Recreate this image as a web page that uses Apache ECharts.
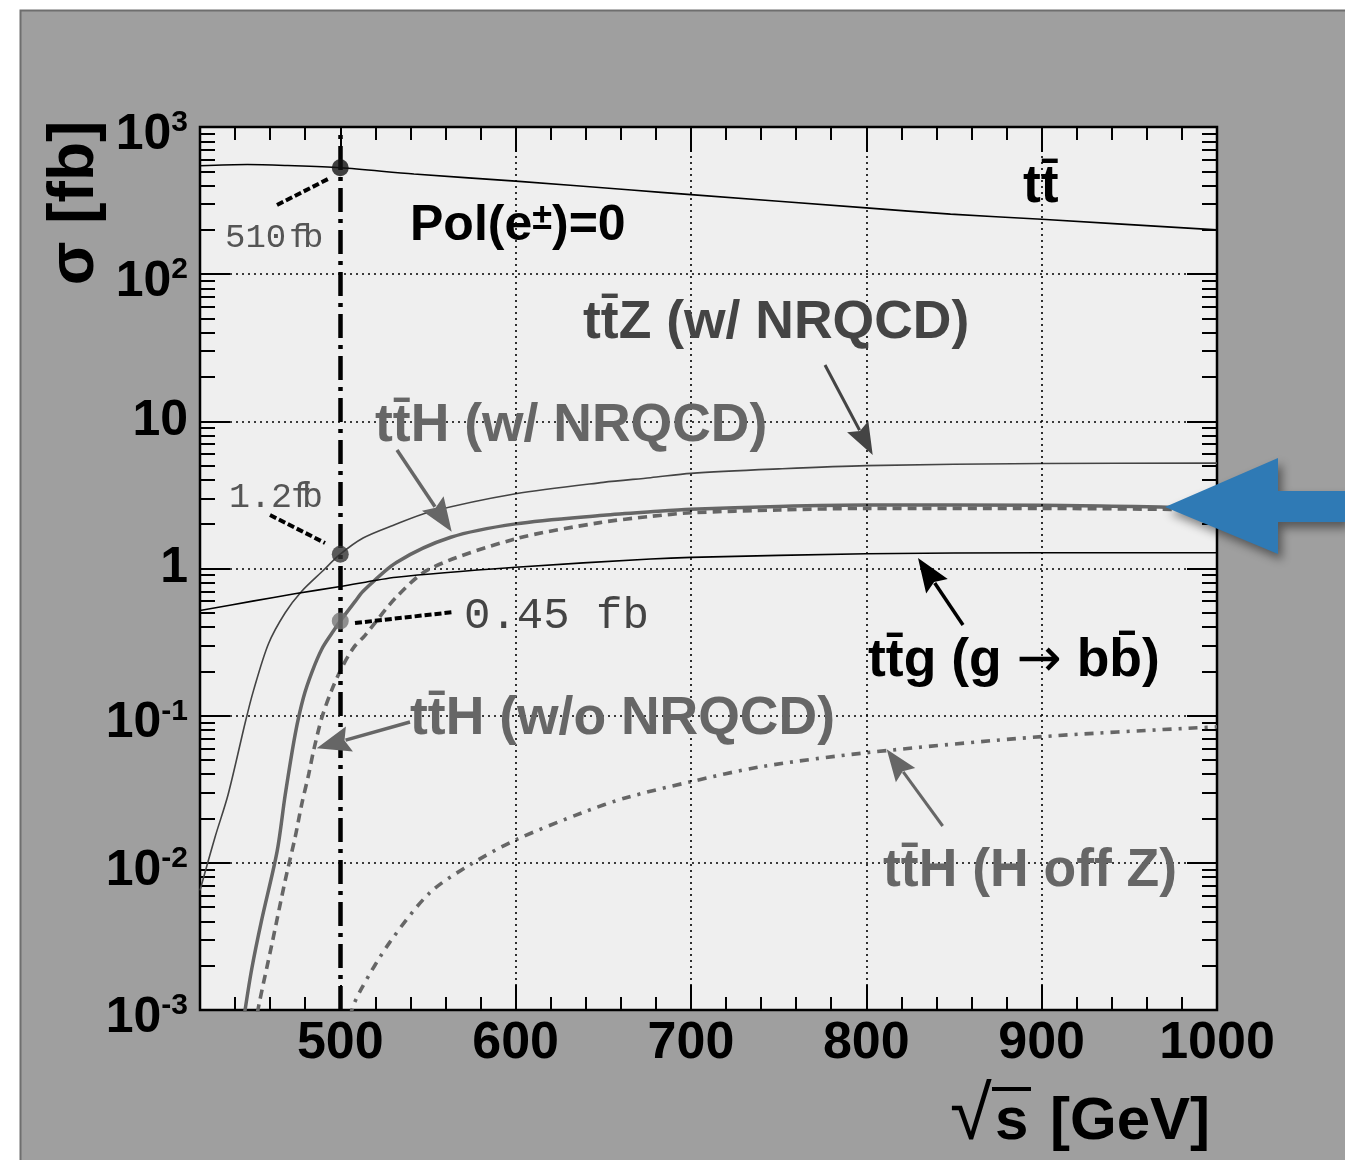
<!DOCTYPE html>
<html><head><meta charset="utf-8">
<script src="https://cdn.jsdelivr.net/npm/echarts@6/dist/echarts.min.js"></script>
<style>html,body{margin:0;padding:0;background:#fff}#c{width:1345px;height:1160px}</style>
</head><body><div id="c"></div>
<script>
// ---------------- data ----------------
const X_TICKS = [500, 600, 700, 800, 900, 1000];
const X_MINOR = [440, 460, 480, 520, 540, 560, 580, 620, 640, 660, 680, 720, 740, 760, 780,
                 820, 840, 860, 880, 920, 940, 960, 980];
const X_GRID = [600, 700, 800, 900];
const Y_DECADES = [-3, -2, -1, 0, 1, 2];
const Y_MINOR_MULT = [2, 3, 4, 5, 6, 7, 8, 9];

// t tbar
const tt_x = [420, 447, 470, 500, 542, 600, 666, 700, 800, 848, 900, 1000];
const tt_y = [546, 556, 547, 528, 479, 429, 373, 347, 282, 256, 236, 200];
// t tbar Z (w/ NRQCD)
const ttZ_x = [420, 428.6, 436, 446, 450.5, 459, 468.6, 478, 489.5, 500, 513, 530, 551, 600, 650, 677, 700, 750, 800, 900, 1000];
const ttZ_y = [0.0065, 0.015, 0.029, 0.092, 0.148, 0.307, 0.50, 0.70, 0.95, 1.25, 1.61, 1.96, 2.42, 3.22, 3.85, 4.14, 4.43, 4.75, 5.0, 5.17, 5.2];
// t tbar H (w/ NRQCD)
const ttHw_x = [443, 445.7, 449.5, 455, 464, 468.6, 474.3, 479, 484, 489.5, 495, 500, 508.6, 513, 532, 563, 600, 650, 677, 700, 750, 800, 900, 1000];
const ttHw_y = [0.0006, 0.001, 0.0019, 0.004, 0.012, 0.029, 0.075, 0.133, 0.20, 0.284, 0.36, 0.44, 0.60, 0.70, 1.10, 1.63, 2.01, 2.30, 2.43, 2.53, 2.64, 2.70, 2.69, 2.56];
// t tbar H (w/o NRQCD)
const ttHwo_x = [450, 453.3, 461, 468.6, 474.3, 478, 482, 484.8, 489.5, 495, 501, 507.6, 514, 532, 551, 600, 648, 677, 700, 750, 800, 900, 1000];
const ttHwo_y = [0.0006, 0.00104, 0.0028, 0.0076, 0.015, 0.025, 0.040, 0.058, 0.097, 0.148, 0.213, 0.29, 0.35, 0.64, 0.995, 1.59, 2.05, 2.26, 2.39, 2.50, 2.56, 2.56, 2.5];
// t tbar g (g -> b bbar)
const ttg_x = [420, 450, 474, 500, 532, 600, 677, 700, 800, 900, 1000];
const ttg_y = [0.518, 0.60, 0.673, 0.754, 0.873, 1.02, 1.16, 1.19, 1.26, 1.28, 1.28];
// t tbar H (H off Z)
const ttHoff_x = [503, 506.6, 512.4, 528, 551, 574, 600, 638, 663, 700, 740, 800, 900, 1000];
const ttHoff_y = [0.0006, 0.001, 0.00142, 0.00286, 0.00625, 0.0097, 0.0143, 0.0219, 0.0277, 0.0356, 0.045, 0.056, 0.072, 0.084];
// marked points at sqrt(s) = 500 GeV
const mark_x = [500, 500, 500];
const mark_y = [528, 1.25, 0.44];
const CUT_X = 500;

// ---------------- chart ----------------
const chart = echarts.init(document.getElementById('c'), null, {renderer: 'canvas'});
const SANS = '"Liberation Sans", Arial, Helvetica, sans-serif';
const MONO = '"Liberation Mono", "DejaVu Sans Mono", monospace';

const pairs = (X, Y) => X.map((x, i) => [x, Y[i]]);
function curve(name, X, Y, lineStyle) {
  return {type: 'line', name, data: pairs(X, Y), showSymbol: false, symbol: 'none',
    smooth: 0.3, clip: true, silent: true, z: 3, lineStyle,
    xAxisIndex: 0, yAxisIndex: 0};
}

const yMinorLog = [];
Y_DECADES.forEach(d => Y_MINOR_MULT.forEach(m => yMinorLog.push(d + Math.log10(m))));

function yLabel(v) {
  const e = Math.round(Math.log10(v));
  if (e === 0) return '{p|1}';
  if (e === 1) return '{p|10}';
  return '{b|10}{s|' + e + '}';
}

const tickStyle = {color: '#000', width: 2};
function xAx(pos, vals, len, labels) {
  return {type: 'value', min: 420, max: 1000, position: pos, gridIndex: 0,
    axisLine: {show: false, onZero: false}, splitLine: {show: false},
    axisTick: {show: true, inside: true, length: len, customValues: vals, lineStyle: tickStyle},
    axisLabel: labels ? {show: true, customValues: X_TICKS, margin: 8, fontSize: 52, fontWeight: 'bold',
      fontFamily: SANS, color: '#000', formatter: v => String(v)} : {show: false}};
}
function yLog(pos, labels) {
  return {type: 'log', logBase: 10, min: 0.001, max: 1000, position: pos, gridIndex: 0, splitNumber: 6,
    axisLine: {show: false, onZero: false},
    splitLine: {show: labels, lineStyle: {type: [2, 4], color: '#000', width: 1.6}},
    axisTick: {show: true, inside: true, length: 30, lineStyle: tickStyle},
    axisLabel: labels ? {show: true, margin: 12, formatter: yLabel, color: '#000',
      rich: {
        p: {fontSize: 50, fontWeight: 'bold', fontFamily: SANS, color: '#000'},
        b: {fontSize: 50, fontWeight: 'bold', fontFamily: SANS, color: '#000', padding: [16, 0, 0, 0]},
        s: {fontSize: 30, fontWeight: 'bold', fontFamily: SANS, color: '#000', verticalAlign: 'top',
            lineHeight: 20, padding: [14, 0, 0, 0]}
      }} : {show: false}};
}
function yMinor(pos) {
  return {type: 'value', min: -3, max: 3, position: pos, gridIndex: 0,
    axisLine: {show: false, onZero: false}, splitLine: {show: false}, axisLabel: {show: false},
    axisTick: {show: true, inside: true, length: 15, customValues: yMinorLog, lineStyle: tickStyle}};
}

// ---- annotation helpers ----
function arrow(x1, y1, x2, y2, color, w, hl, hw) {
  const dx = x2 - x1, dy = y2 - y1, L = Math.hypot(dx, dy), ux = dx / L, uy = dy / L;
  const bx = x2 - ux * hl, by = y2 - uy * hl, nx = -uy, ny = ux;
  return [
    {type: 'line', z: 100, shape: {x1, y1, x2: bx + ux * 4, y2: by + uy * 4}, style: {stroke: color, lineWidth: w}},
    {type: 'polygon', z: 100, shape: {points: [[x2, y2], [bx + nx * hw / 2, by + ny * hw / 2],
      [x2 - ux * hl * 0.85, y2 - uy * hl * 0.85], [bx - nx * hw / 2, by - ny * hw / 2]]},
      style: {fill: color}}
  ];
}
function txt(x, y, text, font, fill, extra, rot) {
  const o = {type: 'text', z: 100, x, y,
    style: Object.assign({text, font, fill, align: 'left', verticalAlign: 'middle'}, extra || {})};
  if (rot) o.rotation = rot;
  return o;
}
function dashLine(x1, y1, x2, y2) {
  return {type: 'line', z: 100, shape: {x1, y1, x2, y2},
    style: {stroke: '#000', lineWidth: 4, lineDash: [7, 3]}};
}

const B53 = 'bold 53.5px ' + SANS;
const graphics = [
  {type: 'rect', z: 50, shape: {x: 0, y: 0, width: 1345, height: 10}, style: {fill: '#fff'}},
  {type: 'rect', z: 50, shape: {x: 0, y: 0, width: 20, height: 1160}, style: {fill: '#fff'}},
  {type: 'polyline', z: 51, shape: {points: [[20.5, 1160], [20.5, 10.5], [1345, 10.5]]},
    style: {stroke: '#6e6e6e', lineWidth: 2, fill: null}},
  // axis titles
  txt(75, 203, 'σ [fb]', 'bold 64px ' + SANS, '#000', {align: 'center'}, Math.PI / 2),
  txt(950, 1118, '√', 'normal 76px ' + SANS, '#000'),
  txt(995, 1122, 's', 'bold 60px ' + SANS, '#000'),
  {type: 'line', z: 100, shape: {x1: 992, y1: 1089, x2: 1031, y2: 1089}, style: {stroke: '#000', lineWidth: 4}},
  txt(1050, 1122, '[GeV]', 'bold 60px ' + SANS, '#000'),
  // labels
  txt(1023, 187.5, 'tt\u0304', B53, '#000'),
  {type: 'text', z: 100, x: 410, y: 226, style: {text: '{a|Pol(e}{s|±}{a|)=0}', align: 'left', verticalAlign: 'middle',
    rich: {a: {font: 'bold 50px ' + SANS, fill: '#000'},
           s: {font: 'bold 36px ' + SANS, fill: '#000', verticalAlign: 'top', lineHeight: 22}}}},
  txt(583, 323.2, 'tt\u0304Z (w/ NRQCD)', B53, '#444'),
  txt(375, 426.5, 'tt\u0304H (w/ NRQCD)', B53, '#666'),
  txt(410, 719.5, 'tt\u0304H (w/o NRQCD)', B53, '#666'),
  txt(883, 871.5, 'tt\u0304H (H off Z)', B53, '#666'),
  {type: 'text', z: 100, x: 868, y: 661.5, style: {text: '{a|tt\u0304g (g }{r|→}{a| bb\u0304)}', align: 'left', verticalAlign: 'middle',
    rich: {a: {font: B53, fill: '#000'}, r: {font: 'normal 54px "DejaVu Sans"', fill: '#000'}}}},
  // value annotations
  txt(225, 237.6, '510', '34px ' + MONO, '#555'),
  txt(289, 237.6, 'f', '34px ' + MONO, '#555'),
  txt(303, 237.6, 'b', '34px ' + MONO, '#555'),
  dashLine(277, 205, 330, 178),
  txt(229, 497.4, '1.2', '35px ' + MONO, '#555'),
  txt(291, 497.4, 'f', '35px ' + MONO, '#555'),
  txt(302, 497.4, 'b', '35px ' + MONO, '#555'),
  dashLine(270, 515, 325, 543),
  txt(464, 616.3, '0.45 fb', '44px ' + MONO, '#444'),
  dashLine(355, 623, 454, 612),
  // arrows
  ...arrow(825, 365, 872.7, 455, '#444', 3, 32, 24),
  ...arrow(397, 450, 451.7, 531.7, '#666', 3.5, 34, 26),
  ...arrow(410, 722, 316.7, 748.3, '#666', 3.5, 34, 26),
  ...arrow(963, 625, 918, 558, '#000', 3.5, 34, 26),
  ...arrow(942.7, 826, 886.7, 749.3, '#666', 3, 32, 24),
  // big blue pointer
  {type: 'polygon', z: 110, shape: {points: [[1165, 507], [1278, 458], [1278, 491], [1345, 491], [1345, 522], [1278, 522], [1278, 554]]},
    style: {fill: '#2f7ab5', shadowBlur: 10, shadowColor: 'rgba(0,0,0,0.45)', shadowOffsetX: 4, shadowOffsetY: 6}}
];

const option = {
  animation: false,
  backgroundColor: '#9f9f9f',
  grid: {left: 200, top: 127, width: 1017, height: 883, show: true, backgroundColor: '#efefef',
    borderColor: '#000', borderWidth: 2.5, containLabel: false, outerBoundsMode: 'none'},
  xAxis: [xAx('bottom', X_TICKS, 25, true), xAx('bottom', X_MINOR, 13, false),
          xAx('top', X_TICKS, 25, false), xAx('top', X_MINOR, 13, false)],
  yAxis: [yLog('left', true), yMinor('left'), yLog('right', false), yMinor('right')],
  series: [
    {type: 'line', data: [], z: 1, silent: true, xAxisIndex: 0, yAxisIndex: 0,
      markLine: {silent: true, symbol: ['none', 'none'], label: {show: false}, animation: false,
        lineStyle: {type: [2, 4], color: '#000', width: 1.6}, emphasis: {disabled: true},
        data: X_GRID.map(v => ({xAxis: v}))}},
    curve('ttbar', tt_x, tt_y, {color: '#000', width: 1.6}),
    curve('ttZ', ttZ_x, ttZ_y, {color: '#444', width: 1.6}),
    curve('ttH w/o NRQCD', ttHwo_x, ttHwo_y, {color: '#666', width: 3.6, type: [9, 6]}),
    curve('ttH w/ NRQCD', ttHw_x, ttHw_y, {color: '#666', width: 3.5}),
    curve('ttg', ttg_x, ttg_y, {color: '#000', width: 1.6}),
    curve('ttH off Z', ttHoff_x, ttHoff_y, {color: '#666', width: 3.6, type: [9, 7, 3, 7]}),
    {type: 'line', data: [], z: 5, silent: true, xAxisIndex: 0, yAxisIndex: 0,
      markLine: {silent: true, symbol: ['none', 'none'], label: {show: false}, animation: false,
        lineStyle: {type: [24, 7, 4, 7], color: '#000', width: 4.5}, emphasis: {disabled: true},
        data: [{xAxis: CUT_X}]}},
    {type: 'scatter', z: 6, silent: true, xAxisIndex: 0, yAxisIndex: 0, symbolSize: 17,
      data: pairs(mark_x, mark_y).map((p, i) => ({value: p,
        itemStyle: {color: ['#111', '#333', '#777'][i]}}))}
  ],
  graphic: graphics
};
chart.setOption(option);
</script></body></html>
